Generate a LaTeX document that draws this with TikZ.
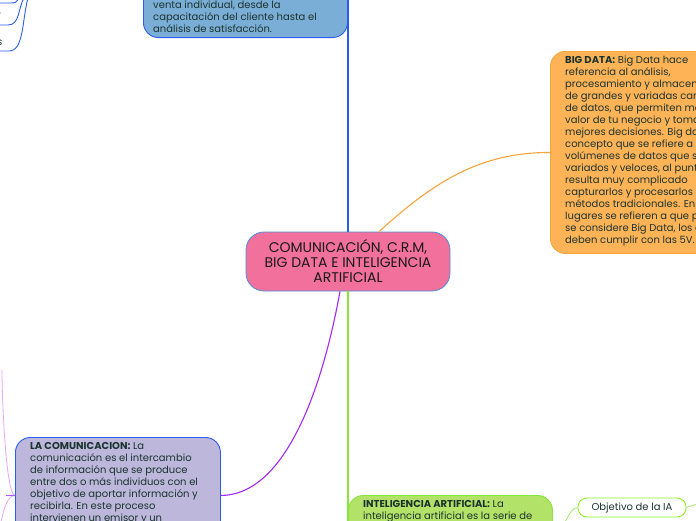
\documentclass[tikz,border=0pt]{standalone}
\usepackage{fontspec}
\setmainfont{Poppins}
\usetikzlibrary{calc}
\definecolor{txtc}{HTML}{1B342F}
\definecolor{bluefill}{HTML}{7BAED6}
\definecolor{blueline}{HTML}{2A5CF0}
\definecolor{orfill}{HTML}{FFB357}
\definecolor{orline}{HTML}{F8A43A}
\definecolor{pinkfill}{HTML}{F2709C}
\definecolor{pinkline}{HTML}{4A8ED8}
\definecolor{lavfill}{HTML}{BDB7DC}
\definecolor{purp}{HTML}{A229F5}
\definecolor{lightpurp}{HTML}{E3A6FF}
\definecolor{grfill}{HTML}{B2E267}
\definecolor{grline}{HTML}{86E63A}
\definecolor{objline}{HTML}{8CF02E}
\tikzset{
  box/.style={rounded corners=15pt, line width=0.9pt, inner sep=0pt, anchor=north west},
  txt/.style={font=\fontsize{10}{12}\selectfont, align=left, inner sep=0pt, text=txtc, anchor=north west},
  conn/.style={line width=1.1pt},
}
\begin{document}
\begin{tikzpicture}[x=1pt,y=-1pt]
\useasboundingbox (0,0) rectangle (696,520);
% central node
\node (c) [rounded corners=18pt, fill=pinkfill, draw=pinkline, line width=0.8pt,
  minimum width=204pt, minimum height=59pt, inner sep=0pt, align=center,
  font=\fontsize{14}{15}\selectfont, text=black!90] at (348,261.5)
  {COMUNICACIÓN, C.R.M,\\BIG DATA E INTELIGENCIA\\ARTIFICIAL};

% blue box (top)
\node (blue) [box, anchor=south west, fill=bluefill, draw=blueline, minimum width=204pt, minimum height=140pt] at (143,38) {};
\node (bluetxt) [txt, anchor=south west] at (153,33)
  {venta individual, desde la\\capacitación del cliente hasta el\\análisis de satisfacción.};

% big data box
\node (bd) [box, fill=orfill, draw=orline, minimum width=220pt, minimum height=202pt] at (550,51) {};
\node (bdtxt) [txt] at (565,56)
  {\textbf{BIG DATA:} Big Data hace\\
   referencia al análisis,\\
   procesamiento y almacenamiento\\
   de grandes y variadas cantidades\\
   de datos, que permiten medir el\\
   valor de tu negocio y tomar\\
   mejores decisiones. Big data es un\\
   concepto que se refiere a grandes\\
   volúmenes de datos que son\\
   variados y veloces, al punto que\\
   resulta muy complicado\\
   capturarlos y procesarlos con\\
   métodos tradicionales. En algunos\\
   lugares se refieren a que para que\\
   se considere Big Data, los datos\\
   deben cumplir con las 5V.};

% la comunicacion box
\node (com) [box, fill=lavfill, draw=blueline, minimum width=205pt, minimum height=116pt] at (15,437) {};
\node (comtxt) [txt] at (30,442)
  {\textbf{LA COMUNICACION:} La\\
   comunicación es el intercambio\\
   de información que se produce\\
   entre dos o más individuos con el\\
   objetivo de aportar información y\\
   recibirla. En este proceso\\
   intervienen un emisor y un};

% inteligencia artificial box
\node (ia) [box, fill=grfill, draw=grline, minimum width=204pt, minimum height=70pt] at (348,495) {};
\node (iatxt) [txt] at (363,500)
  {\textbf{INTELIGENCIA ARTIFICIAL:} La\\
   inteligencia artificial es la serie de};

% objetivo node
\node (obj) [rounded corners=9pt, draw=objline, fill=white, line width=0.9pt,
  minimum width=108pt, minimum height=19pt, inner sep=0pt, text=txtc,
  font=\fontsize{10}{11}\selectfont] at (632,507.5) {Objetivo de la IA};
\coordinate (objr) at (700,503);

% connectors
\draw[conn, blueline] (c.north) -- (c.north |- blue.north);
\draw[conn, orline] ([xshift=31pt]c.north) .. controls +(55,-50) and +(-70,0) .. (bd.west);
\draw[conn, purp] ([xshift=-8pt]c.south) .. controls +(-20,110) and +(60,0) .. (com.east);
\draw[conn, grline] (c.south) -- (c.south |- ia.south);
\draw[line width=0.9pt, grline!70!white] (ia.east) .. controls +(14,0) and +(-10,0) .. (obj.west);
\draw[line width=0.9pt, grline!70!white] (obj.east) -- (objr);

% left purple subtopic connectors
\coordinate (lp1) at (2,370);
\coordinate (lp2) at (0,528);
\draw[line width=0.8pt, lightpurp] (com.west) .. controls +(-9,0) and +(0,30) .. (lp1);
\draw[line width=0.8pt, lightpurp] (com.west) .. controls +(-9,0) and +(2,-12) .. (lp2);
\draw[line width=1.1pt, purp!80!white] ([xshift=-9pt]com.west) -- (com.west);

% top-left partial subtopics
\node (tl1) [inner sep=0pt, text=txtc, font=\fontsize{10}{11}\selectfont, anchor=base west] at (-3,18) {r};
\node (tl2) [inner sep=0pt, text=txtc, font=\fontsize{10}{11}\selectfont, anchor=base west] at (-3,45) {s};
\coordinate (tp1) at (24,-2);
\coordinate (tp2) at (28,-2);
\coordinate (tp0) at (20,-4);
\draw[line width=0.9pt, blueline] (-2,25) -- (8,25) .. controls (20,25) and (18,8) .. (tp1);
\draw[line width=0.9pt, blueline] (-2,51) -- (9,51) .. controls (24,51) and (22,20) .. (tp2);
\draw[line width=0.9pt, blueline] (-2,3) -- (10,3) .. controls (16,3) .. (tp0);
\end{tikzpicture}
\end{document}
